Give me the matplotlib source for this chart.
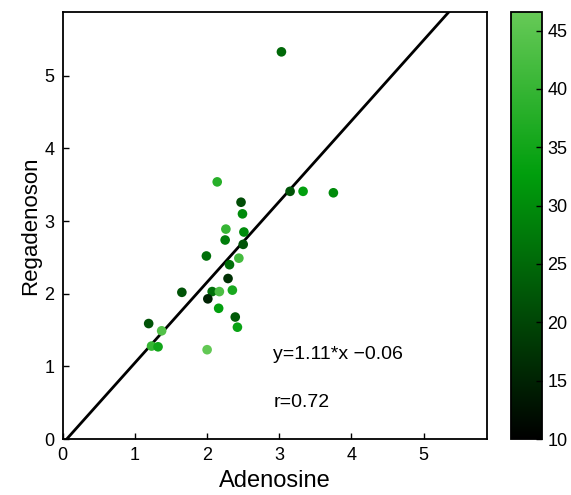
import matplotlib
matplotlib.use("Agg")
import matplotlib.pyplot as plt
from matplotlib.colors import LinearSegmentedColormap
import numpy as np

plt.rcParams['font.family'] = ['Liberation Sans', 'DejaVu Sans']

adenosine = [2.14, 3.15, 3.33, 3.75, 2.47, 2.49, 2.26, 2.51, 2.25, 2.50,
             1.99, 2.44, 2.31, 2.29, 1.65, 2.07, 2.17, 2.35, 2.01, 2.16,
             2.39, 2.42, 1.19, 1.37, 1.23, 1.32, 2.00, 3.03]
regadenoson = [3.54, 3.41, 3.41, 3.39, 3.26, 3.10, 2.89, 2.85, 2.74, 2.68,
               2.52, 2.49, 2.40, 2.21, 2.02, 2.03, 2.03, 2.05, 1.93, 1.80,
               1.68, 1.54, 1.59, 1.49, 1.28, 1.27, 1.23, 5.33]
color_values = [38, 22, 33, 30, 21, 30, 40, 30, 28, 22,
                26, 42, 26, 17, 22, 26, 43, 36, 15, 33,
                23, 34, 22, 44, 40, 35, 46, 25]
slope = 1.11
intercept = -0.06
r_value = 0.72
x_ticks = [0, 1, 2, 3, 4, 5]
y_ticks = [0, 1, 2, 3, 4, 5]
cbar_ticks = [10, 15, 20, 25, 30, 35, 40, 45]

cmap = LinearSegmentedColormap.from_list(
    "blackgreen",
    [(0.0, (0, 0, 0)), (0.62, (0.0, 0.62, 0.05)), (1.0, (0.40, 0.79, 0.34))])

fig = plt.figure(figsize=(5.71, 4.95), dpi=100)
ax = fig.add_axes([0.110, 0.113, 0.743, 0.863])
cax = fig.add_axes([0.895, 0.113, 0.054, 0.863])

sc = ax.scatter(adenosine, regadenoson, c=color_values, cmap=cmap,
                vmin=10, vmax=46.6, s=48, edgecolors='none', zorder=3)

xl = np.array([0, 5.88])
ax.plot(xl, slope * xl + intercept, color='black', lw=2, zorder=2)

ax.set_xlim(0, 5.88)
ax.set_ylim(0, 5.88)
ax.set_xticks(x_ticks)
ax.set_yticks(y_ticks)
ax.tick_params(direction='in', length=4, labelsize=13, width=1, pad=6)
for s in ax.spines.values():
    s.set_linewidth(1.3)
ax.set_xlabel('Adenosine', fontsize=17, labelpad=4)
ax.set_ylabel('Regadenoson', fontsize=16, labelpad=2)

ax.text(2.92, 1.16, f'y={slope:.2f}*x \u2212{abs(intercept):.2f}', fontsize=14,
        ha='left', va='center')
ax.text(2.92, 0.51, f'r={r_value:.2f}', fontsize=14, ha='left', va='center')

cb = fig.colorbar(sc, cax=cax)
cb.set_ticks(cbar_ticks)
cax.tick_params(direction='in', length=4, labelsize=13, width=1, pad=4)
cb.outline.set_linewidth(1.3)

fig.savefig('out.png', dpi=100)
